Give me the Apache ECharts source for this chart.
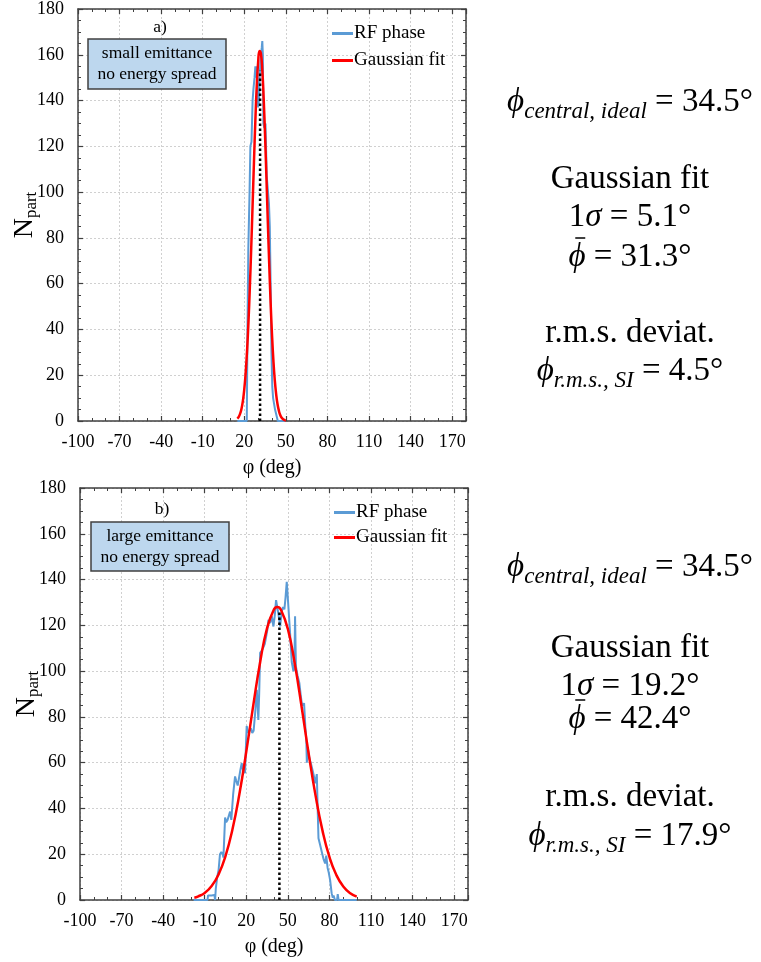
<!DOCTYPE html>
<html><head><meta charset="utf-8">
<script src="https://cdn.jsdelivr.net/npm/echarts/dist/echarts.min.js"></script>
<style>html,body{margin:0;padding:0;background:#fff}#c{width:761px;height:962px}</style>
</head><body><div id="c"></div>
<script>
// ---------- data ----------
const xMin = -100, xMax = 180, xStep = 30;
const yMin = 0, yMax = 180, yStep = 20;
const xTickLabels = [-100, -70, -40, -10, 20, 50, 80, 110, 140, 170];
const seriesNames = ['RF phase', 'Gaussian fit'];

// panel a) small emittance
const rfA = [[15,0],[21.8,0],[22.3,40],[22.9,75],[23.8,100],[24.4,120],[25.2,122],[26,140],[26.6,145],[27.4,150],[28,155],[28.6,150],[29.3,155],[30,137],[30.6,140],[31.3,153],[32,160],[32.6,163],[33,166],[33.4,160],[33.8,130],[34.5,128],[35.3,130],[35.9,130],[36.2,107],[37.2,107],[37.8,95],[38.4,85],[39,60],[39.6,30],[40.2,15],[40.8,10],[41.6,10],[42.2,5],[43,5],[44.2,0],[49.5,0]];
const fitA = [[15,1.0],[16,1.8],[17,3.2],[18,5.4],[19,8.8],[20,13.9],[21,21.1],[22,30.7],[23,43.1],[24,58.2],[25,75.5],[26,94.4],[27,113.5],[28,131.4],[29,146.3],[30,156.8],[31,161.7],[32,160.5],[33,153.2],[34,140.8],[35,124.5],[36,105.9],[37,86.7],[38,68.4],[39,51.8],[40,37.8],[41,26.5],[42,17.9],[43,11.7],[44,7.3],[45,4.4],[46,2.5],[47,1.4],[48,0.8],[49,0.4],[50,0.2]];
const meanA = [[31.4,0],[31.4,153]];

// panel b) large emittance
const rfB = [[-18,0],[-8,0],[-7.6,2],[-5,2],[-3,2.2],[-2.5,0],[-2,5],[-1,10],[0,13],[1,20],[2,21],[3,20],[3.5,18.5],[4.7,36],[5.5,34],[6.5,35],[7.5,37],[8.3,38.6],[9.2,35],[10.5,46],[11.9,54],[12.8,52],[13.8,50],[15,49.4],[15.8,57],[16.7,59.8],[17.5,57],[18.3,58],[19.1,55.4],[19.8,68],[20.3,76],[21.3,73],[22.3,74],[23.3,75],[24.3,73],[25.3,74],[26.4,81.7],[27.6,91.8],[28.7,78.7],[29.3,90],[30,108],[31.2,109],[32.4,110.5],[33.4,112],[34.3,115],[35.2,118],[36,122.4],[37.2,121],[38.4,124],[39.6,119.5],[40.5,124],[41.5,131],[42.3,128],[43.2,125],[44.4,119.5],[45.6,126],[46.5,128],[47.5,127],[48.3,132],[49.2,139],[50.4,128],[51.6,116.6],[52.8,104],[54,100],[54.7,101],[55.2,124],[55.8,102],[57,98],[58.3,94.8],[59.2,90],[60,86],[60.8,85],[61.7,86],[62.6,75.8],[63.3,70],[63.7,60],[64.5,66],[65.5,62],[66.5,60],[67.3,58],[68.5,55],[69.7,51],[70.9,55],[71.5,40],[72.1,27],[73.3,24],[74.5,21],[75.7,18],[76.9,16],[77.7,19.4],[78.7,14],[79.5,12],[80.5,8.7],[81.6,3],[82.4,1],[83,2],[84,0],[85.5,0],[86,2.6],[86.6,0],[99.7,0]];
const fitB = [[-17.5,1.0],[-15,1.5],[-10,3.1],[-5,6.1],[0,11.2],[5,19.2],[10,30.8],[15,46.2],[20,64.8],[25,84.9],[30,103.9],[35,118.8],[40,127.0],[42.4,128],[45,126.8],[50,118.4],[55,103.2],[60,84.1],[65,64.0],[70,45.6],[75,30.3],[80,18.8],[85,10.9],[90,5.9],[95,3.0],[99.7,1.5]];
const meanB = [[43.9,0],[43.9,126]];

const panelTags = ['a)', 'b)'];
const boxTexts = [['small emittance', 'no energy spread'], ['large emittance', 'no energy spread']];
const centralIdeal = ['34.5', '34.5'];
const sigmaFit = ['5.1', '19.2'];
const meanFit = ['31.3', '42.4'];
const rmsDev = ['4.5', '17.9'];

// ---------- styles ----------
const FONT = '"Liberation Serif", "Times New Roman", serif';
const BLUE = '#5B9BD5', RED = '#FF0000';
const AX = '#404040';

const grids = [
  {left: 78, top: 9, width: 388, height: 412, containLabel: false, outerBoundsMode: 'none'},
  {left: 80, top: 488, width: 388, height: 412, containLabel: false, outerBoundsMode: 'none'}
];

function xAx(g, pos) {
  const main = pos === 'bottom';
  return {
    type: 'value', gridIndex: g, position: pos, min: xMin, max: xMax, interval: xStep,
    axisLine: {show: true, onZero: false, lineStyle: {color: AX, width: 1.5}},
    axisTick: {show: true, inside: true, length: 5, lineStyle: {color: AX, width: 1.2}},
    minorTick: {show: true, splitNumber: 3, length: 3, lineStyle: {color: AX, width: 1}},
    axisLabel: {show: main, showMaxLabel: false, margin: 12, fontFamily: FONT, fontSize: 18, color: '#000'},
    splitLine: {show: main, lineStyle: {color: '#d0d0d0', type: [2, 2], width: 1}},
    name: main ? 'φ (deg)' : '', nameLocation: 'middle', nameGap: 37, nameMoveOverlap: false,
    nameTextStyle: {fontFamily: FONT, fontSize: 20, color: '#000'}
  };
}
function yAx(g, pos) {
  const main = pos === 'left';
  return {
    type: 'value', gridIndex: g, position: pos, min: yMin, max: yMax, interval: yStep,
    axisLine: {show: true, onZero: false, lineStyle: {color: AX, width: 1.5}},
    axisTick: {show: true, inside: true, length: 5, lineStyle: {color: AX, width: 1.2}},
    minorTick: {show: true, splitNumber: 4, length: 3, lineStyle: {color: AX, width: 1}},
    axisLabel: {show: main, margin: 14, fontFamily: FONT, fontSize: 18, color: '#000'},
    splitLine: {show: main, lineStyle: {color: '#d0d0d0', type: [2, 2], width: 1}},
    name: main ? '{n|N}{s|part}' : '', nameLocation: 'middle', nameGap: 38, nameMoveOverlap: false,
    nameTextStyle: {rich: {
      n: {fontFamily: FONT, fontSize: 28, color: '#000', lineHeight: 30},
      s: {fontFamily: FONT, fontSize: 17, color: '#000', lineHeight: 17, verticalAlign: 'bottom'}
    }}
  };
}

function lineSeries(name, data, xi, yi, color, width, z, smooth) {
  return {name, type: 'line', data, xAxisIndex: xi, yAxisIndex: yi, showSymbol: false, symbol: 'none',
    smooth: !!smooth, lineStyle: {color, width}, itemStyle: {color}, z, silent: true, animation: false};
}
function meanSeries(data, xi, yi) {
  return {name: 'mean', type: 'line', data, xAxisIndex: xi, yAxisIndex: yi, showSymbol: false, symbol: 'none',
    lineStyle: {color: '#000', width: 2.5, type: [2.5, 2.5]}, z: 4, silent: true, animation: false};
}

function legend(top, left, gap) {
  return {data: seriesNames, orient: 'vertical', left, top, icon: 'rect', itemWidth: 21, itemHeight: 3,
    itemGap: gap, padding: 0, selectedMode: false, textStyle: {fontFamily: FONT, fontSize: 19, color: '#000', padding: [0, 0, 0, -4]}};
}

// annotation graphics
const graphics = [];
const boxes = [{x: 88, y: 39, w: 138, h: 50, tagX: 160, tagY: 27}, {x: 91, y: 522, w: 138, h: 49, tagX: 162, tagY: 509}];
boxes.forEach((b, i) => {
  graphics.push({type: 'rect', shape: {x: b.x, y: b.y, width: b.w, height: b.h},
    style: {fill: '#BDD7EE', stroke: AX, lineWidth: 1.5}, z: 10});
  graphics.push({type: 'text', x: b.x + b.w / 2, y: b.y + b.h / 2, z: 11,
    style: {text: boxTexts[i].join('\n'), fontFamily: FONT, fontSize: 17.5, lineHeight: 21, fill: '#000', align: 'center', verticalAlign: 'middle'}});
  graphics.push({type: 'text', x: b.tagX, y: b.tagY, z: 11,
    style: {text: panelTags[i], fontFamily: FONT, fontSize: 17.5, fill: '#000', align: 'center', verticalAlign: 'middle'}});
});

const MAIN = 33, SUB = 23;
const mathRich = {
  p: {fontFamily: FONT, fontSize: MAIN, fontStyle: 'italic', lineHeight: 42, fill: '#000'},
  s: {fontFamily: FONT, fontSize: SUB, fontStyle: 'italic', lineHeight: 34, verticalAlign: 'bottom', fill: '#000'},
  m: {fontFamily: FONT, fontSize: MAIN, lineHeight: 42, fill: '#000'}
};
const measureCtx = document.createElement('canvas').getContext('2d');
function tw(font, txt) { measureCtx.font = font; return measureCtx.measureText(txt).width; }

const textCols = [
  {cx: 630, ys: [102, 179, 217, 257, 333, 371]},
  {cx: 630, ys: [567, 648, 686, 719, 797, 836]}
];
textCols.forEach((c, i) => {
  const meanRest = ' = ' + meanFit[i] + '°';
  const lines = [
    '{p|ϕ}{s|central, ideal}{m| = ' + centralIdeal[i] + '°}',
    '{m|Gaussian fit}',
    '{m|1}{p|σ}{m| = ' + sigmaFit[i] + '°}',
    '{p|ϕ}{m|' + meanRest + '}',
    '{m|r.m.s. deviat.}',
    '{p|ϕ}{s|r.m.s., SI}{m| = ' + rmsDev[i] + '°}'
  ];
  lines.forEach((t, k) => {
    graphics.push({type: 'text', x: c.cx, y: c.ys[k], z: 11,
      style: {text: t, rich: mathRich, fontFamily: FONT, fontSize: MAIN, fill: '#000', align: 'center', verticalAlign: 'middle'}});
  });
  // bar over phi (mean)
  const wp = tw('italic ' + MAIN + 'px ' + FONT, 'ϕ');
  const wr = tw(MAIN + 'px ' + FONT, meanRest);
  const left = c.cx - (wp + wr) / 2;
  const by = c.ys[3] - 19;
  graphics.push({type: 'line', z: 11, shape: {x1: left + wp * 0.4, y1: by, x2: left + wp * 0.4 + 10, y2: by},
    style: {stroke: '#000', lineWidth: 1.5}});
});

const option = {
  animation: false,
  backgroundColor: '#fff',
  grid: grids,
  xAxis: [xAx(0, 'bottom'), xAx(0, 'top'), xAx(1, 'bottom'), xAx(1, 'top')],
  yAxis: [yAx(0, 'left'), yAx(0, 'right'), yAx(1, 'left'), yAx(1, 'right')],
  legend: [legend(24, 332, 8), legend(503, 334, 6)],
  series: [
    lineSeries('RF phase', rfA, 0, 0, BLUE, 2, 2),
    lineSeries('Gaussian fit', fitA, 0, 0, RED, 2.5, 3, true),
    meanSeries(meanA, 0, 0),
    lineSeries('RF phase', rfB, 2, 2, BLUE, 2, 2),
    lineSeries('Gaussian fit', fitB, 2, 2, RED, 2.5, 3, true),
    meanSeries(meanB, 2, 2)
  ],
  graphic: graphics
};
const chart = echarts.init(document.getElementById('c'), null, {renderer: 'canvas'});
chart.setOption(option);
</script></body></html>
